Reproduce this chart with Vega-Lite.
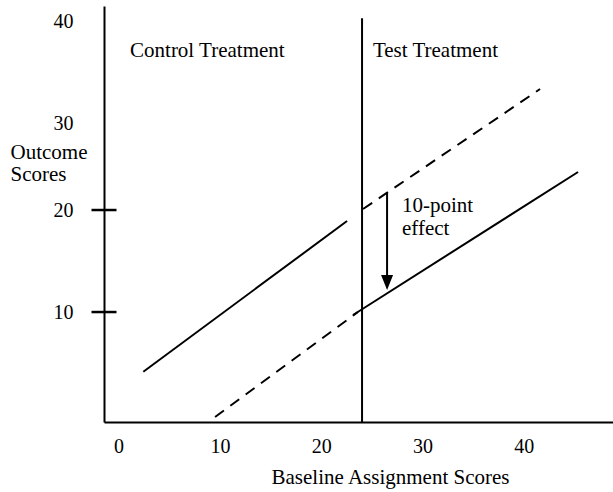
{
  "$schema": "https://vega.github.io/schema/vega-lite/v6.json",
  "autosize": {"type": "none"},
  "padding": {"left": 104, "top": 6, "right": 0, "bottom": 70},
  "width": 509,
  "height": 416,
  "background": "white",
  "config": {
    "view": {"stroke": null},
    "font": "Liberation Serif",
    "axis": {
      "grid": false,
      "domainColor": "black",
      "domainWidth": 2,
      "labelColor": "black",
      "titleColor": "black",
      "labelFont": "Liberation Serif",
      "titleFont": "Liberation Serif",
      "labelFontSize": 20,
      "titleFontSize": 21,
      "titleFontWeight": "normal"
    }
  },
  "datasets": {
    "lines": [
      {"seg": "control", "style": "solid", "x": 2.44, "y": 4.15},
      {"seg": "control", "style": "solid", "x": 22.55, "y": 18.92},
      {"seg": "test", "style": "solid", "x": 23.14, "y": 9.71},
      {"seg": "test", "style": "solid", "x": 45.35, "y": 23.73},
      {"seg": "control-ext", "style": "dashed", "x": 9.52, "y": -0.29},
      {"seg": "control-ext", "style": "dashed", "x": 23.63, "y": 10.0},
      {"seg": "test-ext", "style": "dashed", "x": 24.13, "y": 20.1},
      {"seg": "test-ext", "style": "dashed", "x": 41.6, "y": 31.86}
    ],
    "cutoff": [{"x": 24.03, "ylo": -0.78, "yhi": 38.8}],
    "yticks": [{"x": -1.44, "y": 10}, {"x": -1.44, "y": 20}],
    "arrow": [{"x": 26.5, "ytop": 21.76, "ybot": 13.2, "ytip": 12.16}],
    "labels": [
      {"x": 1.13, "y": 35.0, "text": "Control Treatment"},
      {"x": 25.1, "y": 35.0, "text": "Test Treatment"},
      {"x": 27.97, "y": 19.8, "text": "10-point"},
      {"x": 27.97, "y": 17.55, "text": "effect"}
    ]
  },
  "layer": [
    {
      "data": {"name": "lines"},
      "transform": [{"filter": "datum.style === 'solid'"}],
      "mark": {"type": "line", "color": "black", "strokeWidth": 2},
      "encoding": {
        "x": {
          "field": "x", "type": "quantitative",
          "scale": {"domain": [-1.44, 48.8], "nice": false, "zero": false},
          "axis": {
            "values": [0, 10, 20, 30, 40],
            "ticks": false,
            "labelPadding": 14,
            "title": "Baseline Assignment Scores",
            "titleX": 286,
            "titleY": 61,
            "titleBaseline": "alphabetic",
            "titleAlign": "center",
            "titleAnchor": null
          }
        },
        "y": {
          "field": "y", "type": "quantitative",
          "scale": {"domain": [-0.78, 40], "nice": false, "zero": false},
          "axis": {
            "values": [10, 20, 30, 40],
            "ticks": true,
            "tickSize": 12,
            "tickOpacity": 0,
            "labelPadding": 19,
            "labelOffset": {"condition": {"test": "datum.value >= 30", "value": 15}, "value": 0},
            "title": ["Outcome", "Scores"],
            "titleAngle": 0,
            "titleAlign": "left",
            "titleBaseline": "alphabetic",
            "titleX": -94,
            "titleY": 152,
            "titleLineHeight": 22
          }
        },
        "detail": {"field": "seg"}
      }
    },
    {
      "data": {"name": "lines"},
      "transform": [{"filter": "datum.style === 'dashed'"}],
      "mark": {"type": "line", "color": "black", "strokeWidth": 2, "strokeDash": [11, 8]},
      "encoding": {
        "x": {"field": "x", "type": "quantitative"},
        "y": {"field": "y", "type": "quantitative"},
        "detail": {"field": "seg"}
      }
    },
    {
      "data": {"name": "cutoff"},
      "mark": {"type": "rule", "color": "black", "strokeWidth": 2},
      "encoding": {
        "x": {"field": "x", "type": "quantitative"},
        "y": {"field": "ylo", "type": "quantitative"},
        "y2": {"field": "yhi"}
      }
    },
    {
      "data": {"name": "yticks"},
      "mark": {"type": "tick", "orient": "horizontal", "color": "black", "size": 25, "thickness": 2.5, "opacity": 1},
      "encoding": {
        "x": {"field": "x", "type": "quantitative"},
        "y": {"field": "y", "type": "quantitative"}
      }
    },
    {
      "data": {"name": "arrow"},
      "mark": {"type": "rule", "color": "black", "strokeWidth": 2},
      "encoding": {
        "x": {"field": "x", "type": "quantitative"},
        "y": {"field": "ytop", "type": "quantitative"},
        "y2": {"field": "ybot"}
      }
    },
    {
      "data": {"name": "arrow"},
      "mark": {"type": "point", "shape": "M-0.8,-2L0.8,-2L0,0Z", "size": 225, "filled": true, "color": "black", "opacity": 1},
      "encoding": {
        "x": {"field": "x", "type": "quantitative"},
        "y": {"field": "ytip", "type": "quantitative"}
      }
    },
    {
      "data": {"name": "labels"},
      "mark": {"type": "text", "align": "left", "baseline": "alphabetic", "font": "Liberation Serif", "fontSize": 21, "color": "black"},
      "encoding": {
        "x": {"field": "x", "type": "quantitative"},
        "y": {"field": "y", "type": "quantitative"},
        "text": {"field": "text"}
      }
    }
  ]
}
